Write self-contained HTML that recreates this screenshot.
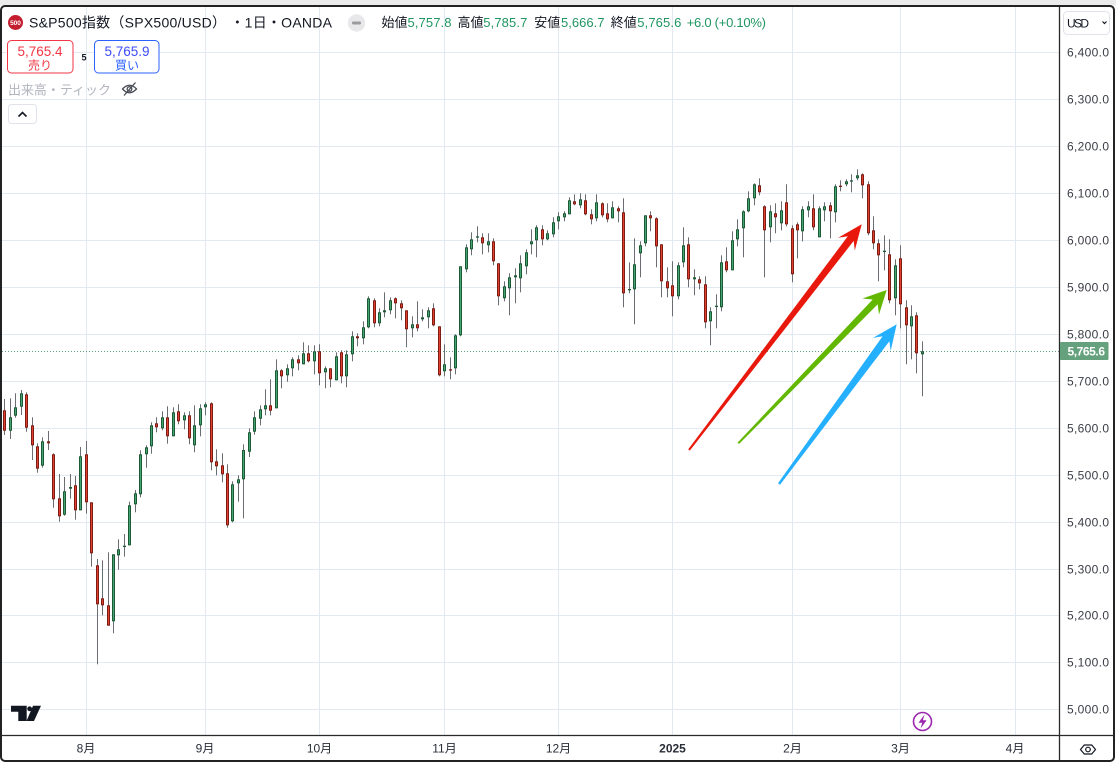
<!DOCTYPE html>
<html>
<head>
<meta charset="utf-8">
<style>
  html,body{margin:0;padding:0;background:#fff;}
  body{width:1116px;height:771px;overflow:hidden;}
  svg{display:block;}
  .t{font-family:"Liberation Sans","Noto Sans CJK JP",sans-serif;}
</style>
</head>
<body>
<svg id="s" width="1116" height="771" viewBox="0 0 1116 771" xmlns="http://www.w3.org/2000/svg">
  <rect width="1116" height="771" fill="#fff"/>
  <rect width="1116" height="5.5" fill="#ebebeb"/>
  <rect x="1" y="6" width="1113" height="755" rx="4" fill="#fff" stroke="#222" stroke-width="2"/>

  <!-- grid -->
  <g stroke="#e3e9f0" stroke-width="1">
    <line x1="2" x2="1059" y1="52.5" y2="52.5"/>
    <line x1="2" x2="1059" y1="99.5" y2="99.5"/>
    <line x1="2" x2="1059" y1="146.5" y2="146.5"/>
    <line x1="2" x2="1059" y1="193.5" y2="193.5"/>
    <line x1="2" x2="1059" y1="240.5" y2="240.5"/>
    <line x1="2" x2="1059" y1="287.5" y2="287.5"/>
    <line x1="2" x2="1059" y1="334.5" y2="334.5"/>
    <line x1="2" x2="1059" y1="381.5" y2="381.5"/>
    <line x1="2" x2="1059" y1="428.5" y2="428.5"/>
    <line x1="2" x2="1059" y1="475.5" y2="475.5"/>
    <line x1="2" x2="1059" y1="522.5" y2="522.5"/>
    <line x1="2" x2="1059" y1="569.5" y2="569.5"/>
    <line x1="2" x2="1059" y1="615.5" y2="615.5"/>
    <line x1="2" x2="1059" y1="662.5" y2="662.5"/>
    <line x1="2" x2="1059" y1="709.5" y2="709.5"/>
    <line x1="86.5" x2="86.5" y1="7" y2="735"/>
    <line x1="205.5" x2="205.5" y1="7" y2="735"/>
    <line x1="319.5" x2="319.5" y1="7" y2="735"/>
    <line x1="444.5" x2="444.5" y1="7" y2="735"/>
    <line x1="558.5" x2="558.5" y1="7" y2="735"/>
    <line x1="672.5" x2="672.5" y1="7" y2="735"/>
    <line x1="792.5" x2="792.5" y1="7" y2="735"/>
    <line x1="900.5" x2="900.5" y1="7" y2="735"/>
    <line x1="1015.5" x2="1015.5" y1="7" y2="735"/>
  </g>

  <!-- last price dotted line -->
  <line x1="2" x2="1059" y1="351.5" y2="351.5" stroke="#5f9f7c" stroke-width="1" stroke-dasharray="1 2"/>

  <g id="c"></g>
  <g id="arr"></g>

  <!-- separators -->
  <line x1="1059.5" x2="1059.5" y1="7" y2="761" stroke="#2a2a2a" stroke-width="1.3"/>
  <line x1="1" x2="1114" y1="735.5" y2="735.5" stroke="#2a2a2a" stroke-width="1.3"/>

  <!-- price axis labels -->
  <g class="t" font-size="12" fill="#3a3d45">
    <text x="1067" y="56.5" textLength="42">6,400.0</text>
    <text x="1067" y="103.5" textLength="42">6,300.0</text>
    <text x="1067" y="150.5" textLength="42">6,200.0</text>
    <text x="1067" y="197.5" textLength="42">6,100.0</text>
    <text x="1067" y="244.5" textLength="42">6,000.0</text>
    <text x="1067" y="291.5" textLength="42">5,900.0</text>
    <text x="1067" y="338.5" textLength="42">5,800.0</text>
    <text x="1067" y="385.5" textLength="42">5,700.0</text>
    <text x="1067" y="432.5" textLength="42">5,600.0</text>
    <text x="1067" y="479.5" textLength="42">5,500.0</text>
    <text x="1067" y="526.5" textLength="42">5,400.0</text>
    <text x="1067" y="573.5" textLength="42">5,300.0</text>
    <text x="1067" y="619.5" textLength="42">5,200.0</text>
    <text x="1067" y="666.5" textLength="42">5,100.0</text>
    <text x="1067" y="713.5" textLength="42">5,000.0</text>
  </g>

  <!-- current price tag -->
  <rect x="1060" y="342" width="48.5" height="18" rx="1" fill="#65a17d"/>
  <text class="t" x="1067.5" y="355.5" font-size="12" font-weight="bold" fill="#fff" textLength="37.5">5,765.6</text>

  <!-- USD box -->
  <rect x="1063.5" y="11.5" width="46" height="23" rx="4" fill="#fff" stroke="#e0e3eb"/>
  <text class="t" x="1067" y="27.5" font-size="12" fill="#131722" textLength="22">USD</text>
  <polyline points="1102.5,21.5 1104.5,23.5 1106.5,21.5" fill="none" stroke="#131722" stroke-width="1.2"/>

  <!-- time axis labels -->
  <g class="t" font-size="12" fill="#2a2e39" text-anchor="middle">
    <text x="86" y="752.5">8月</text>
    <text x="205" y="752.5">9月</text>
    <text x="319.5" y="752.5">10月</text>
    <text x="444.5" y="752.5">11月</text>
    <text x="558.5" y="752.5">12月</text>
    <text x="672.5" y="752.5" font-weight="bold">2025</text>
    <text x="792.5" y="752.5">2月</text>
    <text x="900.5" y="752.5">3月</text>
    <text x="1015" y="752.5">4月</text>
  </g>

  <!-- settings hexagon -->
  <polygon points="1080.5,749.5 1084.3,745 1091.7,745 1095.5,749.5 1091.7,754 1084.3,754" fill="none" stroke="#131722" stroke-width="1.2"/>
  <circle cx="1088" cy="749.5" r="2.3" fill="none" stroke="#131722" stroke-width="1.2"/>

  <!-- header: title -->
  <circle cx="15.5" cy="22.5" r="7.5" fill="#c41f30"/>
  <text class="t" x="15.5" y="25" font-size="6.5" font-weight="bold" fill="#fff" text-anchor="middle">500</text>
  <text class="t" x="29" y="27.5" font-size="14" fill="#131722" textLength="303">S&amp;P500指数（SPX500/USD） ・1日・OANDA</text>
  <circle cx="356.5" cy="23" r="8.7" fill="#e8e8ea"/>
  <rect x="352" y="21.5" width="9" height="3" rx="1.2" fill="#9b9b9e"/>

  <!-- OHLC -->
  <g class="t" font-size="13">
    <text x="381.5" y="27" fill="#131722">始値</text>
    <text x="407.5" y="27" fill="#1f9560" textLength="44">5,757.8</text>
    <text x="457.5" y="27" fill="#131722">高値</text>
    <text x="483.3" y="27" fill="#1f9560" textLength="44">5,785.7</text>
    <text x="534.3" y="27" fill="#131722">安値</text>
    <text x="561" y="27" fill="#1f9560" textLength="43.5">5,666.7</text>
    <text x="610.7" y="27" fill="#131722">終値</text>
    <text x="637.3" y="27" fill="#1f9560" textLength="44">5,765.6</text>
    <text x="686.7" y="27" fill="#1f9560" textLength="79.3">+6.0 (+0.10%)</text>
  </g>

  <!-- sell / buy -->
  <rect x="7.5" y="40.5" width="65.5" height="32.5" rx="4" fill="#fff" stroke="#f23645"/>
  <text class="t" x="40" y="56" font-size="13.5" fill="#f23645" text-anchor="middle">5,765.4</text>
  <text class="t" x="40" y="69.5" font-size="12" fill="#f23645" text-anchor="middle">売り</text>
  <text class="t" x="84" y="60.5" font-size="9" font-weight="bold" fill="#131722" text-anchor="middle">5</text>
  <rect x="94.5" y="40.5" width="64.5" height="32.5" rx="4" fill="#fff" stroke="#2962ff"/>
  <text class="t" x="127" y="56" font-size="13.5" fill="#3d4cf5" text-anchor="middle">5,765.9</text>
  <text class="t" x="127" y="69.5" font-size="12" fill="#2962ff" text-anchor="middle">買い</text>

  <!-- volume legend -->
  <text class="t" x="8" y="94.5" font-size="13" fill="#b2b5be" textLength="103">出来高・ティック</text>
  <g fill="none" stroke="#4a4d55" stroke-width="1.3">
    <path d="M122.5,89 Q129.5,81.5 136.5,89 Q129.5,96.5 122.5,89 Z"/>
    <circle cx="129.5" cy="89" r="2.3"/>
    <line x1="124" y1="95.5" x2="135.5" y2="82.5"/>
  </g>

  <!-- collapse button -->
  <rect x="8.5" y="104.5" width="28" height="19" rx="3" fill="#fff" stroke="#e0e3eb"/>
  <polyline points="18.5,116.5 22.5,112.5 26.5,116.5" fill="none" stroke="#131722" stroke-width="1.6"/>

  <!-- TradingView logo -->
  <g fill="#131722">
    <path d="M11,705.7 H26.7 V721 H18.3 V711.7 H11 Z"/>
    <circle cx="29.6" cy="708.8" r="2.4"/>
    <path d="M33,705.7 H41 L34,721 H26.5 Z"/>
  </g>

  <!-- lightning icon -->
  <circle cx="922.5" cy="721.5" r="9" fill="#fff" stroke="#9c27b0" stroke-width="1.6"/>
  <path d="M924.5,714.5 L918.5,722.8 L922.2,722.8 L920.6,728.5 L926.6,720.2 L922.9,720.2 Z" fill="#9c27b0"/>
</svg>

<script>
const D=[
['r',410.3,430.7,399,435],['g',417.3,430.7,398.3,439],['g',407.3,415.7,393.3,417.7],['g',393.3,406.7,390,415],
['r',394.3,427.7,392.3,431.7],['r',425.3,445.3,417.3,460],['r',446.3,468.7,443.3,472.7],['g',441.3,465.7,437.3,467.7],
['r',441.3,443.3,431,450],['r',454.3,499.3,453.3,507.7],['r',498.3,516.3,474,521.7],['g',491.3,514.7,477,515.7],
['g',487,488.7,474,498.7],['r',485.3,510.3,476,519.7],['g',456.3,510.3,447,510.3],['r',454.3,502.3,441,513.7],
['r',502.3,553.3,502.3,566.7],['r',565.3,604.3,559,664.3],['r',598.3,605.3,560.3,615.3],['r',605.3,625.7,552.3,625.7],
['g',554.3,621.3,554.3,633.3],['g',549.3,555.3,539.3,569.7],['g',545.7,546.3,534,556.7],['g',505.3,545.3,501.7,545.3],
['g',493.3,504.3,490,512.3],['g',454.3,494.3,450.3,497.3],['g',447.3,454.3,445.3,467.7],['g',425.3,446.3,422.3,453.7],
['r',423.3,427.3,417.3,432.3],['g',417.3,428.3,411.3,430.3],['r',417.3,436.3,406.3,443.7],['g',412.3,436.3,407.3,436.3],
['r',411.3,421.3,404.3,424.3],['g',415.3,420.3,412.3,429.3],['r',415.3,438.3,411.3,444.3],['g',425.3,445.3,405.3,452.3],
['g',408.3,425.3,404.3,436.3],['g',404.3,407.3,402.3,415.3],['r',403.3,462.3,402.3,470.3],['r',461.3,466.3,449.3,475.3],
['r',465.3,474.3,453.3,482.3],['r',473.3,525.3,464.3,527.7],['g',484.3,521.3,481.3,522.3],['g',479.3,483.3,475.3,501.7],
['g',450,479.3,444.3,518.3],['g',432.3,451.7,428.3,457],['g',417.3,431.7,411.3,434.7],['g',409.3,418.7,405.3,425.3],
['g',405.3,409.3,389.3,415.3],['r',405.3,410.7,379.3,415.3],['g',370.3,408.3,359.3,408.3],['r',370.3,376.3,369.3,388.3],
['g',368.3,375.3,364.3,381.7],['g',359.3,368.3,357.3,376.3],['r',359.3,363.3,355.3,370.3],['g',353.3,364.3,342.3,364.3],
['r',353.3,361.3,345.3,362.3],['g',351.3,361.3,345.3,374.3],['r',351.3,373.3,344.3,385.3],['g',368.3,372.3,366.3,388.3],
['r',368.3,379.3,368.3,387.3],['g',356.3,380.3,352.3,380.3],['r',352.3,376.3,350.3,383.3],['g',354.3,376.3,350.3,387.3],
['g',336.3,354.3,331.3,361.3],['r',336.3,338.3,333.3,346.3],['g',327.3,338.3,321.3,344.3],['g',298.3,327.3,296.3,328.3],
['r',300.3,323.3,298.3,327.3],['g',312.3,323.3,308.3,326.3],['g',310.3,312.3,292.3,317.3],['g',300.3,310.3,297.3,314.3],
['r',298.3,303.3,297.3,318.3],['r',303.3,308.3,300.3,320.3],['r',310.3,329.3,310.3,347.3],['g',324.3,328.3,316.3,337.3],
['r',324.3,328.3,301.3,331.3],['g',317.3,319.3,309.3,321.3],['g',310.3,317.3,307.3,328.3],['r',308.3,325.3,303.3,326.3],
['r',326.3,375.3,326.3,376.3],['g',364.3,371.3,344.3,376.3],['r',369.3,370.3,357.3,379.3],['g',335.3,368.3,334.3,374.3],
['g',266.3,335.3,266.3,336.3],['g',247.3,269.3,244.3,272.3],['g',239.3,249.3,232.3,255.3],['g',236.3,236.7,226.3,242.3],
['r',237.3,243.3,233.3,254.3],['g',241.3,245.3,233.3,252.3],['r',241.3,261.3,238.3,265.3],['r',263.3,296.3,263.3,305.3],
['g',286.3,298.3,281.3,301.3],['g',277.3,288.3,273.3,315.3],['g',275.3,277.3,268.3,303.3],['g',263.3,278.3,255.3,292.3],
['g',252.3,266.3,249.3,274.3],['g',241.3,244.3,229.3,254.3],['g',227.3,240.3,225.3,257.3],['r',229.3,239.3,225.3,245.3],
['g',233.3,239.3,230.3,240.3],['g',222.3,234.3,217.3,237.3],['g',216.3,221.3,212.3,229.3],['g',213.3,217.3,211.3,221.3],
['g',200.3,214.3,197.3,214.3],['r',201.3,204.3,194.3,205.3],['g',199.3,205.3,193.3,208.3],['r',200.3,214.3,194.3,215.3],
['r',214.3,219.3,209.3,224.3],['g',202.3,218.3,194.3,221.3],['r',203.3,215.3,202.3,217.3],['r',213.3,219.3,203.3,222.3],
['g',207.3,218.3,201.3,218.3],['r',208.3,211.3,206.3,222.3],['r',212.3,293.3,198.3,307.3],['g',289,289.3,262.3,293.3],
['g',264.3,289.3,238.3,324.3],['g',245.3,253.3,241.3,277.3],['g',215.3,243.3,215.3,246.3],['r',215.3,218.3,211.3,231.3],
['r',218.3,246.3,217.3,267.3],['r',244.3,281.3,244.3,297.3],['r',281.3,288.3,267.3,297.3],['r',285.3,296.3,261.3,316.3],
['g',265.3,296.3,262.3,299.3],['g',245.3,262.3,227.3,267.3],['r',244.3,279.3,237.3,287.3],['g',277.3,279.3,269.3,295.3],
['r',279.3,283.3,276.3,289.3],['r',284.3,322.3,276.3,328.3],['g',311.3,321.3,307.3,345.3],['g',305.7,306.3,294.3,328.3],
['g',262.3,307.3,255.3,311.3],['r',261.3,270.3,247.3,272.3],['g',240.3,270.3,231.3,270.3],['g',229.3,239.3,219.3,246.3],
['g',211.3,228.3,210.3,257.3],['g',198.3,211.3,191.3,212.3],['g',184.3,198.3,183.3,205.3],['r',185.3,192.3,178.3,195.3],
['r',206.3,230.3,205.3,277.3],['g',211.3,227.3,205.3,242.3],['r',213.3,217.3,203.3,233.3],['g',210.3,223.3,201.3,230.3],
['r',202.3,224.3,184.3,226.3],['r',228.3,274.3,225.3,282.3],['r',224.3,230.3,222.3,258.3],['g',209.3,231.3,206.3,241.3],
['g',206.3,210.3,201.3,217.3],['r',208.3,227.3,194.3,230.3],['g',208.3,237.3,206.3,237.3],['g',206.3,210.3,202.3,221.3],
['r',205.3,211.3,202.3,238.3],['g',186.3,212.3,184.3,222.3],['r',185.7,186.3,180.3,191.3],['g',181.3,184.3,179.3,186.3],
['g',180.3,181.3,174.3,192.3],['g',175.3,178.3,169.3,180.3],['r',174.3,185.3,173.3,198.3],['r',184.3,233.3,181.3,235.3],
['r',230.3,243.3,216.3,249.3],['r',243.3,255.3,239.3,281.3],['g',250.7,251.3,235.3,270.3],['r',254.3,300.3,239.3,303.3],
['g',265.3,298.3,259.3,315.3],['r',258.3,304.3,245.3,328.3],['r',307.3,325.3,300.3,364.3],['g',316.3,326.3,305.3,359.3],
['r',315.3,353.3,312.3,373.3],['g',351.3,354.3,341.3,396.3]
];
let s='';
D.forEach((d,i)=>{
  const x=Math.floor(4.87+i*5.4286);
  const c=d[0],bt=d[1],bb=d[2],wt=d[3],wb=d[4];
  s+='<rect x="'+x+'" y="'+wt+'" width="1" height="'+(wb-wt).toFixed(1)+'" fill="#6a6d72"/>';
  const h=Math.max(bb-bt,1.3);
  const bc=c==='r'?'#7e1b12':'#1b5a35', fc=c==='r'?'#e2402e':'#45a574';
  s+='<rect x="'+(x-1)+'" y="'+bt+'" width="3" height="'+h.toFixed(1)+'" fill="'+bc+'"/>';
  if(h>2.4) s+='<rect x="'+x+'" y="'+(bt+1).toFixed(1)+'" width="1" height="'+(h-2).toFixed(1)+'" fill="'+fc+'"/>';
});
document.getElementById('c').innerHTML=s;

function arrow(tx,ty,px,py,tw,nw,hw,hl,col){
  const dx=px-tx,dy=py-ty,L=Math.hypot(dx,dy),ux=dx/L,uy=dy/L,nx=-uy,ny=ux;
  const nd=L-hl*0.72,bd=L-hl;
  const kx=tx+ux*nd,ky=ty+uy*nd,bx=tx+ux*bd,by=ty+uy*bd;
  const p=[[tx+nx*tw/2,ty+ny*tw/2],[kx+nx*nw/2,ky+ny*nw/2],[bx+nx*hw,by+ny*hw],[px,py],
           [bx-nx*hw,by-ny*hw],[kx-nx*nw/2,ky-ny*nw/2],[tx-nx*tw/2,ty-ny*tw/2]];
  return '<polygon points="'+p.map(q=>q[0].toFixed(1)+','+q[1].toFixed(1)).join(' ')+'" fill="'+col+'"/>';
}
document.getElementById('arr').innerHTML=
  arrow(689,450,861.7,224.3,2,7.5,10.5,25,'#e8190c')+
  arrow(738.3,443.3,886.7,290,2,7,11.5,23,'#62b700')+
  arrow(779,484,896.7,324.3,2.5,8.5,11,25,'#25b0ff');
</script>
</body>
</html>
